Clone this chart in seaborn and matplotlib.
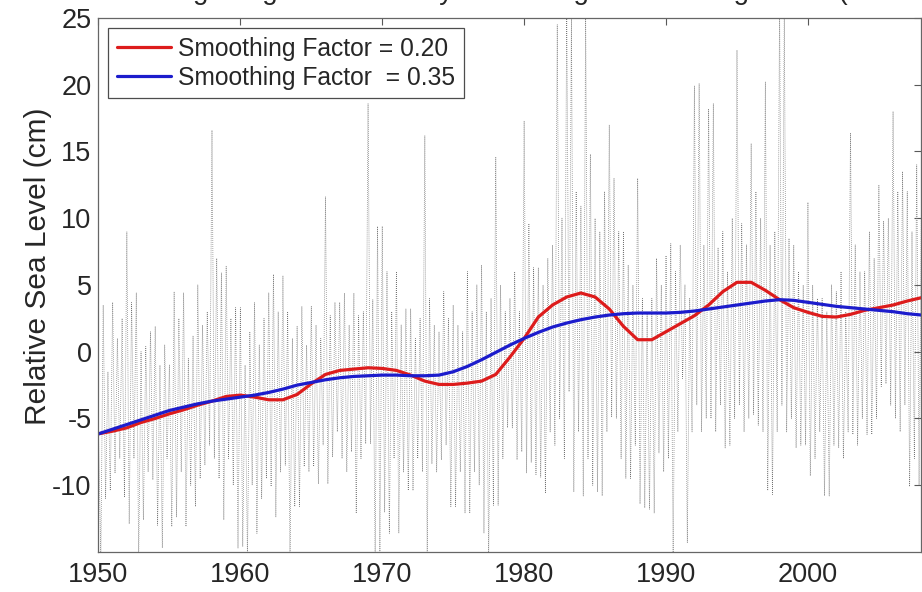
import numpy as np
import matplotlib

matplotlib.use("Agg")
import matplotlib.pyplot as plt
import seaborn as sns

# smoothed curves, read once per year
SMOOTH_YEARS = list(range(1950, 2009))
FACTOR_020 = [
    -6.15, -5.95, -5.7, -5.3, -5.0, -4.65, -4.35, -4.0, -3.7, -3.35,
    -3.25, -3.4, -3.6, -3.6, -3.2, -2.4, -1.7, -1.4, -1.3, -1.2,
    -1.25, -1.4, -1.75, -2.2, -2.45, -2.45, -2.35, -2.2, -1.7, -0.4,
    1.0, 2.6, 3.5, 4.1, 4.4, 4.1, 3.2, 1.9, 0.9, 0.9,
    1.5, 2.1, 2.7, 3.5, 4.5, 5.2, 5.2, 4.6, 3.9, 3.3,
    2.95, 2.65, 2.6, 2.8, 3.1, 3.3, 3.5, 3.8, 4.05,
]
FACTOR_035 = [
    -6.15, -5.8, -5.45, -5.1, -4.75, -4.4, -4.15, -3.9, -3.7, -3.55,
    -3.4, -3.25, -3.05, -2.8, -2.5, -2.3, -2.1, -1.95, -1.85, -1.8,
    -1.75, -1.75, -1.8, -1.8, -1.75, -1.5, -1.1, -0.6, -0.05, 0.5,
    1.0, 1.45, 1.85, 2.15, 2.4, 2.6, 2.75, 2.85, 2.9, 2.9,
    2.9, 2.95, 3.05, 3.2, 3.35, 3.5, 3.65, 3.8, 3.9, 3.85,
    3.7, 3.55, 3.4, 3.3, 3.2, 3.1, 3.0, 2.85, 2.75,
]

# raw gauge record, one value every two months from Jan 1950
NOISE_START = 1950.0
NOISE_STEP = 1.0 / 6.0
NOISE_CM = [
    -6, -15.5, 3.5, -11, -1.5, -10.4,      # 1950
    3.7, -9.1, 1, -8, 2.5, -10.9,
    9.0, -12.9, 3.7, -8, 4.4, -15.5,
    0, -12.6, 0.4, -9, 1.5, -9.6,
    1.9, -13, -1, -14.7, 0.5, -8,
    -1, -13.1, 4.5, -12.4, 2.5, -9,        # 1955
    4.4, -13.1, -0.5, -10, 1.2, -11.6,
    5, -9.5, 2, -8.5, 3, -7,
    16.6, -8, 7, -9.5, 5.9, -12.6,
    6.4, -8, 2.5, -10, 3.3, -14.7,
    3.3, -14.6, -1, -15.5, 1.5, -10,       # 1960
    3.7, -13.6, 0.5, -11, 2.5, -9.5,
    4.4, -10.1, 5.8, -12.4, 3, -9,
    5.7, -8.5, 3, -15.5, 1, -11.6,
    1.9, -11.6, 3.4, -8.6, 0.5, -9,
    3.4, -8.6, 2, -9.9, 1, -7,             # 1965
    11.6, -9.9, 2.7, -7.9, 3.7, -6,
    3.7, -8, 4.4, -9, 2, -7.5,
    4.4, -12.1, 2.7, -8, 3, -6.9,
    18.6, -6.9, 3.9, -15.5, 9.4, -15.5,
    9.4, -12, 6, -13.6, 3, -8,             # 1970
    6, -13.6, 2, -9, 3.2, -10.4,
    3.2, -10.4, 1, -8, 2.5, -9,
    16.2, -15.5, 4, -8.4, 2, -9,
    1.5, -8.1, 4.5, -7, 2.5, -11.6,
    3.5, -11.6, 2, -9, 1.5, -12.1,         # 1975
    6, -12.1, 3, -9, 5, -10,
    6.5, -13.6, 3, -15.5, 4, -11.5,
    14.6, -11.5, 5, -8, 3, -5.7,
    4, -5.7, 6, -8.1, 3, -7.5,
    17.3, -9.1, 9.6, -8.3, 6.3, -9.2,      # 1980
    6.3, -9.4, 5, -10.6, 7, -6,
    8, -7, 24.5, -5, 10, -8,
    26, -3, 25, -10.5, 12, -6,
    10.9, -10.8, 25.5, -8, 14.8, -10,
    10, -10.5, 9, -10.8, 12, -6,           # 1985
    17, -4.9, 13, -5, 9, -8,
    9, -9.5, 6.5, -9.5, 5, -7,
    13, -11.4, 4, -11.7, 3, -11.8,
    4, -12.1, 7, -7.6, 5, -9,
    7.2, -8, 8.1, -15.5, 6, -6,            # 1990
    8, -2, 5, -14.3, 4, -6,
    19.9, -4, 20.1, -6, 8, -5,
    18.2, -5, 18.6, -6, 7.8, -4,
    9, -7.2, 6, -7, 10, -5,
    22.6, -4, 9.6, -6, 8, -5,              # 1995
    15.6, -4.7, 12, -5.5, 10, -6,
    20.2, -10.4, 8, -10.7, 9, -6,
    26, -4, 25.5, -6, 8.5, -5,
    8, -7.2, 6, -7, 5, -7,
    11.2, -9.3, 5, -8, 4, -6,              # 2000
    4, -10.8, 3, -10.8, 5, -7,
    4.5, -7.2, 6, -8, 3, -6,
    16.4, -6.2, 8, -7, 6, -5,
    6, -6.2, 9, -6.2, 7, -5,
    12.5, -2.6, 9.8, -2.4, 10, -4,         # 2005
    18, -5, 12, -6, 13.5, -4,
    12, -10.1, 9, -8, 14, -10,
    11, -10,
]

LABEL_020 = "Smoothing Factor = 0.20"
LABEL_035 = "Smoothing Factor  = 0.35"
TITLE = "Smoothing Long-Term Monthly Tide Gauge Data Using Loess (Station)"

sns.set_style("white")
plt.rcParams["font.family"] = ["Liberation Sans", "DejaVu Sans"]
plt.rcParams["axes.unicode_minus"] = False

fig = plt.figure(figsize=(9.22, 5.92), dpi=100)
ax = fig.add_axes([0.1068, 0.0676, 0.8926, 0.902])

noise_years = NOISE_START + NOISE_STEP * np.arange(len(NOISE_CM))
sns.lineplot(
    x=noise_years, y=NOISE_CM, ax=ax, color="0.45", linewidth=0.55,
    linestyle=(0, (1, 1.6)), estimator=None, sort=False, legend=False,
)
sns.lineplot(x=SMOOTH_YEARS, y=FACTOR_020, ax=ax, color="#dd1c1c",
             linewidth=2.3, label=LABEL_020)
sns.lineplot(x=SMOOTH_YEARS, y=FACTOR_035, ax=ax, color="#1c1ccc",
             linewidth=2.3, label=LABEL_035)

ax.set_xlim(1950, 2008)
ax.set_ylim(-15, 25)
ax.set_xticks(range(1950, 2010, 10))
ax.set_yticks(range(-10, 30, 5))
ax.tick_params(axis="both", direction="in", top=True, right=True,
               length=5, width=0.8, color="0.35", labelsize=19.5)
ax.tick_params(axis="x", pad=7)
ax.tick_params(axis="y", pad=5)
for spine in ax.spines.values():
    spine.set_color("0.4")
    spine.set_linewidth(0.9)

ax.set_xlabel("")
ax.set_ylabel("Relative Sea Level (cm)", fontsize=21.5)
ax.yaxis.set_label_coords(-0.057, 0.536)

handles, labels = ax.get_legend_handles_labels()
keep = [(h, l) for h, l in zip(handles, labels) if l in (LABEL_020, LABEL_035)]
leg = ax.legend(
    [h for h, _ in keep], [l for _, l in keep],
    loc="upper left", bbox_to_anchor=(0.0115, 0.981), borderaxespad=0,
    fontsize=17.7, frameon=True, fancybox=False, framealpha=1,
    edgecolor="0.3", handlelength=2.2, handletextpad=0.3,
    labelspacing=0.2, borderpad=0.35,
)
leg.get_frame().set_linewidth(0.9)

# title sits above the canvas; only its descenders show, as in the source
fig.text(0.553, 1.002, TITLE, ha="center", va="baseline", fontsize=20)

fig.savefig("out.png", dpi=100)
plt.close(fig)
